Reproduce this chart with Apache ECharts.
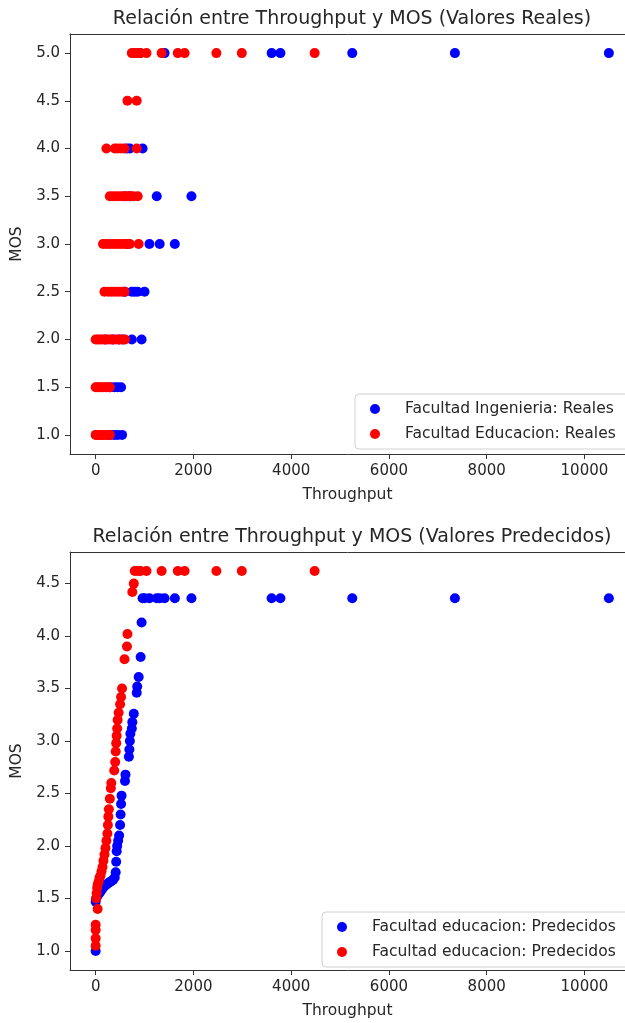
<!DOCTYPE html>
<html>
<head>
<meta charset="utf-8">
<script src="https://cdn.jsdelivr.net/npm/echarts@6/dist/echarts.min.js"></script>
<style>
  html, body { margin: 0; padding: 0; background: #ffffff; }
  #chart { width: 625px; height: 1023px; }
</style>
</head>
<body>
<div id="chart"></div>
<script>
// Axis ticks
const throughputTicks = [0, 2000, 4000, 6000, 8000, 10000];
const mosTicksReal = [1.0, 1.5, 2.0, 2.5, 3.0, 3.5, 4.0, 4.5, 5.0];
const mosTicksPred = [1.0, 1.5, 2.0, 2.5, 3.0, 3.5, 4.0, 4.5];

// Measured MOS per throughput sample: [throughput, MOS]
const ingenieriaReales = [
  [300, 1.0], [380, 1.0], [450, 1.0], [540, 1.0],
  [300, 1.5], [380, 1.5], [450, 1.5], [520, 1.5],
  [200, 2.0], [350, 2.0], [480, 2.0], [560, 2.0], [740, 2.0], [940, 2.0],
  [600, 2.5], [740, 2.5], [800, 2.5], [860, 2.5], [1000, 2.5],
  [650, 3.0], [1100, 3.0], [1310, 3.0], [1620, 3.0],
  [600, 3.5], [700, 3.5], [1250, 3.5], [1960, 3.5],
  [640, 4.0], [700, 4.0], [960, 4.0],
  [900, 5.0], [1410, 5.0], [3600, 5.0], [3780, 5.0], [5250, 5.0], [7350, 5.0], [10500, 5.0]
];
const educacionReales = [
  [0, 1.0], [20, 1.0], [50, 1.0], [90, 1.0], [130, 1.0], [170, 1.0], [220, 1.0], [260, 1.0], [290, 1.0],
  [0, 1.5], [30, 1.5], [70, 1.5], [110, 1.5], [160, 1.5], [210, 1.5], [250, 1.5], [290, 1.5],
  [0, 2.0], [40, 2.0], [80, 2.0], [130, 2.0], [180, 2.0], [240, 2.0], [300, 2.0], [360, 2.0], [420, 2.0], [480, 2.0], [540, 2.0], [600, 2.0],
  [180, 2.5], [260, 2.5], [330, 2.5], [400, 2.5], [470, 2.5], [540, 2.5], [590, 2.5],
  [150, 3.0], [220, 3.0], [290, 3.0], [360, 3.0], [430, 3.0], [500, 3.0], [570, 3.0], [640, 3.0], [700, 3.0], [880, 3.0],
  [290, 3.5], [360, 3.5], [430, 3.5], [500, 3.5], [560, 3.5], [640, 3.5], [700, 3.5], [770, 3.5], [860, 3.5],
  [220, 4.0], [390, 4.0], [450, 4.0], [520, 4.0], [590, 4.0], [840, 4.0],
  [650, 4.5], [840, 4.5],
  [740, 5.0], [800, 5.0], [860, 5.0], [920, 5.0], [1040, 5.0], [1350, 5.0], [1680, 5.0], [1820, 5.0], [2470, 5.0], [2990, 5.0], [4480, 5.0]
];

// Model output per throughput sample: [throughput, predicted MOS]
const predBlue = [
  [0, 1.0], [0, 1.47], [10, 1.5], [30, 1.52], [60, 1.54], [90, 1.56], [120, 1.58], [150, 1.6],
  [180, 1.62], [210, 1.63], [240, 1.64], [270, 1.65], [300, 1.66], [330, 1.67], [360, 1.68], [390, 1.7],
  [410, 1.75], [420, 1.85], [430, 1.95], [440, 2.0], [460, 2.05], [480, 2.1], [500, 2.2], [510, 2.3],
  [520, 2.4], [530, 2.48], [600, 2.62], [610, 2.68], [680, 2.85], [690, 2.92], [700, 3.0], [710, 3.07],
  [740, 3.12], [750, 3.18], [780, 3.26], [840, 3.46], [850, 3.52], [880, 3.61], [920, 3.8], [940, 4.13],
  [960, 4.36], [1000, 4.36], [1100, 4.36], [1250, 4.36], [1310, 4.36], [1410, 4.36], [1620, 4.36],
  [1960, 4.36], [3600, 4.36], [3780, 4.36], [5250, 4.36], [7350, 4.36], [10500, 4.36]
];
const predRed = [
  [0, 1.05], [0, 1.12], [0, 1.2], [0, 1.25], [10, 1.5], [20, 1.55], [30, 1.6], [40, 1.63], [40, 1.4],
  [60, 1.66], [80, 1.7], [100, 1.72], [120, 1.76], [140, 1.8], [160, 1.86], [180, 1.92], [200, 1.98],
  [220, 2.05], [240, 2.12], [250, 2.2], [260, 2.28], [270, 2.35], [290, 2.45], [310, 2.55], [320, 2.6],
  [380, 2.72], [400, 2.8], [410, 2.9], [420, 2.98], [430, 3.05], [440, 3.12], [450, 3.2], [470, 3.27],
  [500, 3.35], [520, 3.42], [540, 3.5], [590, 3.78], [640, 3.9], [650, 4.02], [750, 4.42], [780, 4.5],
  [800, 4.62], [860, 4.62], [920, 4.62], [1040, 4.62], [1350, 4.62], [1680, 4.62], [1820, 4.62],
  [2470, 4.62], [2990, 4.62], [4480, 4.62]
];

const FONT = 'DejaVu Sans';
const TEXT = '#262626';
const SPINE = '#333333';
const BLUE = '#0000ff';
const RED = '#ff0000';
const X_MIN = -525;
const X_MAX = 10830;

function xAxisFor(gridIndex) {
  return {
    gridIndex: gridIndex,
    type: 'value',
    position: 'bottom',
    min: X_MIN,
    max: X_MAX,
    name: 'Throughput',
    nameLocation: 'middle',
    nameGap: 33,
    nameTextStyle: { fontFamily: FONT, fontSize: 15.5, color: TEXT },
    axisLine: { show: true, onZero: false, lineStyle: { color: SPINE, width: 1 } },
    axisTick: { show: true, inside: false, length: 5, lineStyle: { color: SPINE }, customValues: throughputTicks },
    axisLabel: { fontFamily: FONT, fontSize: 15, color: TEXT, margin: 10, customValues: throughputTicks,
                 formatter: v => String(v) },
    splitLine: { show: false }
  };
}

// plain top spine of each panel
function topSpineFor(gridIndex) {
  return {
    gridIndex: gridIndex,
    type: 'value',
    position: 'top',
    min: X_MIN,
    max: X_MAX,
    axisLine: { show: true, onZero: false, lineStyle: { color: SPINE, width: 1 } },
    axisTick: { show: false },
    axisLabel: { show: false },
    splitLine: { show: false }
  };
}

function yAxisFor(gridIndex, min, max, ticks) {
  return {
    gridIndex: gridIndex,
    type: 'value',
    min: min,
    max: max,
    name: 'MOS',
    nameLocation: 'middle',
    nameRotate: 90,
    nameGap: 42,
    nameTextStyle: { fontFamily: FONT, fontSize: 15.5, color: TEXT },
    axisLine: { show: true, onZero: false, lineStyle: { color: SPINE, width: 1 } },
    axisTick: { show: true, inside: false, length: 5, lineStyle: { color: SPINE }, customValues: ticks },
    axisLabel: { fontFamily: FONT, fontSize: 15, color: TEXT, margin: 10, customValues: ticks,
                 formatter: v => v.toFixed(1) },
    splitLine: { show: false }
  };
}

function legendFor(left, top, names) {
  return {
    left: left,
    top: top,
    orient: 'vertical',
    data: names,
    icon: 'circle',
    itemWidth: 10,
    itemHeight: 10,
    itemGap: 9,
    padding: [7, 40, 7, 15],
    borderColor: '#d0d0d0',
    borderWidth: 1,
    borderRadius: 4,
    backgroundColor: 'rgba(255,255,255,0.8)',
    formatter: name => name.trim(),
    textStyle: { fontFamily: FONT, fontSize: 15.5, color: TEXT, padding: [0, 0, 0, 20] }
  };
}

function scatter(name, data, color, axisIndex) {
  return {
    type: 'scatter',
    name: name,
    data: data,
    xAxisIndex: axisIndex,
    yAxisIndex: axisIndex,
    symbol: 'circle',
    symbolSize: 10,
    itemStyle: { color: color, opacity: 1 },
    emphasis: { disabled: true },
    animation: false
  };
}

const nameIng = 'Facultad Ingenieria: Reales';
const nameEdu = 'Facultad Educacion: Reales';
// both prediction series carry the same label text; the trailing space keeps them apart
const namePredA = 'Facultad educacion: Predecidos';
const namePredB = 'Facultad educacion: Predecidos ';

const chart = echarts.init(document.getElementById('chart'), null, { renderer: 'canvas' });
chart.setOption({
  animation: false,
  backgroundColor: '#ffffff',
  title: [
    { text: 'Relación entre Throughput y MOS (Valores Reales)', left: 347, top: 5, textAlign: 'center',
      textStyle: { fontFamily: FONT, fontSize: 19, fontWeight: 'normal', color: TEXT } },
    { text: 'Relación entre Throughput y MOS (Valores Predecidos)', left: 347, top: 523, textAlign: 'center',
      textStyle: { fontFamily: FONT, fontSize: 19, fontWeight: 'normal', color: TEXT } }
  ],
  grid: [
    { left: 70, top: 34, width: 555, height: 420, show: false, containLabel: false },
    { left: 70, top: 552, width: 555, height: 418, show: false, containLabel: false }
  ],
  xAxis: [xAxisFor(0), xAxisFor(1), topSpineFor(0), topSpineFor(1)],
  yAxis: [yAxisFor(0, 0.8, 5.2, mosTicksReal), yAxisFor(1, 0.819, 4.801, mosTicksPred)],
  legend: [
    legendFor(355, 394, [nameIng, nameEdu]),
    legendFor(322, 912, [namePredA, namePredB])
  ],
  series: [
    scatter(nameIng, ingenieriaReales, BLUE, 0),
    scatter(nameEdu, educacionReales, RED, 0),
    scatter(namePredA, predBlue, BLUE, 1),
    scatter(namePredB, predRed, RED, 1)
  ]
});
</script>
</body>
</html>
